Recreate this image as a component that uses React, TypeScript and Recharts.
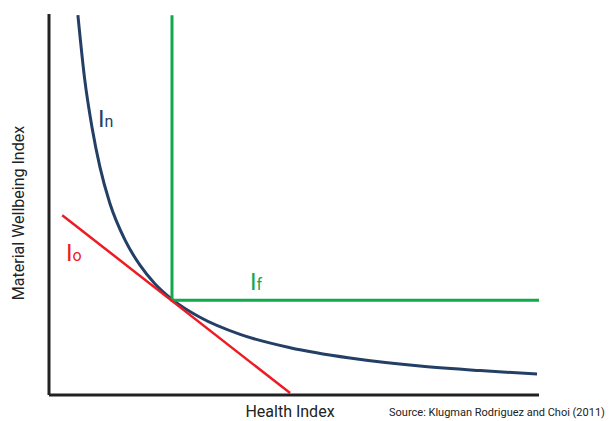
import { ComposedChart, Line, XAxis, YAxis } from 'recharts';

// indifference curve I_n (health index vs material wellbeing)
const curveN = [
  { x: 5.9, y: 99.7 },
  { x: 7.3, y: 82.7 },
  { x: 8.8, y: 70.1 },
  { x: 10.4, y: 59.8 },
  { x: 12.4, y: 50.4 },
  { x: 15.5, y: 40.7 },
  { x: 18.6, y: 34.0 },
  { x: 21.6, y: 29.2 },
  { x: 25.1, y: 25.1 },
  { x: 30.8, y: 20.4 },
  { x: 39.0, y: 15.9 },
  { x: 49.2, y: 12.4 },
  { x: 61.4, y: 9.7 },
  { x: 75.7, y: 7.6 },
  { x: 88.0, y: 6.4 },
  { x: 99.6, y: 5.5 },
];

// Leontief-style curve I_f
const curveF = [
  { x: 25.1, y: 99.7 },
  { x: 25.1, y: 24.9 },
  { x: 100, y: 24.9 },
];

// linear curve I_o
const curveO = [
  { x: 2.7, y: 47.2 },
  { x: 49.2, y: 0.5 },
];

const NAVY = '#233f66';
const GREEN = '#12a84c';
const RED = '#ec1c24';

const font = 'Roboto, "Noto Sans", sans-serif';

function CurveLabel({ x, y, sub, color }: { x: number; y: number; sub: string; color: string }) {
  return (
    <text x={x} y={y} fill={color} fontFamily={font}>
      <tspan fontSize={24}>I</tspan>
      <tspan fontSize={16}>{sub}</tspan>
    </text>
  );
}

export default function App() {
  return (
    <div style={{ position: 'absolute', left: 0, top: 0, width: 615, height: 421, background: '#fff' }}>
      <ComposedChart width={615} height={421} margin={{ top: 14, right: 76, bottom: 16, left: 39 }}>
        <XAxis
          type="number"
          dataKey="x"
          domain={[0, 100]}
          height={10}
          tick={false}
          tickLine={false}
          axisLine={{ stroke: '#222', strokeWidth: 3 }}
        />
        <YAxis
          type="number"
          dataKey="y"
          domain={[0, 100]}
          width={10}
          tick={false}
          tickLine={false}
          axisLine={{ stroke: '#222', strokeWidth: 3 }}
        />
        <Line data={curveN} dataKey="y" type="monotone" stroke={NAVY} strokeWidth={3} dot={false} isAnimationActive={false} />
        <Line data={curveF} dataKey="y" type="linear" stroke={GREEN} strokeWidth={3} dot={false} isAnimationActive={false} />
        <Line data={curveO} dataKey="y" type="linear" stroke={RED} strokeWidth={2.5} dot={false} isAnimationActive={false} />
        <CurveLabel x={98} y={127} sub="n" color={NAVY} />
        <CurveLabel x={66} y={261} sub="o" color={RED} />
        <CurveLabel x={250} y={290} sub="f" color={GREEN} />
        <text x={290} y={417} textAnchor="middle" fontFamily={font} fontSize={16} fill="#222">
          Health Index
        </text>
        <text
          x={24}
          y={213}
          textAnchor="middle"
          fontFamily={font}
          fontSize={16}
          fill="#222"
          transform="rotate(-90 24 213)"
        >
          Material Wellbeing Index
        </text>
        <text x={497} y={416} textAnchor="middle" fontFamily={font} fontSize={11} fill="#222">
          Source: Klugman Rodriguez and Choi (2011)
        </text>
      </ComposedChart>
    </div>
  );
}
